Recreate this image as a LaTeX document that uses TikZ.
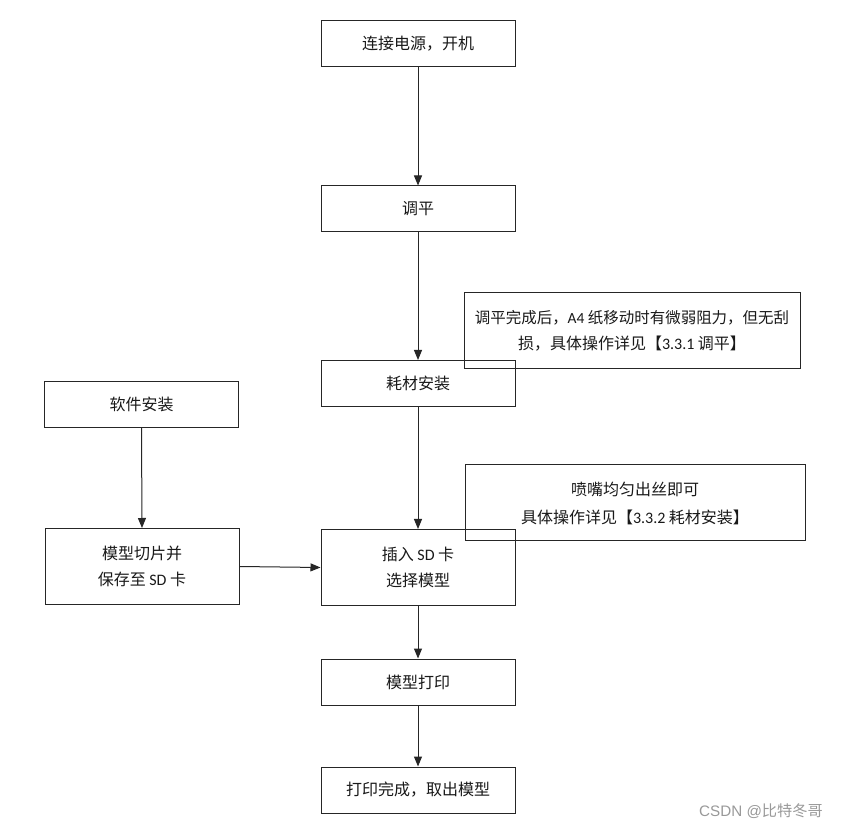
\documentclass[tikz,border=0pt]{standalone}
\usepackage{fontspec}
\setmainfont{Noto Sans CJK SC}
\newfontfamily\latf{Carlito}
\newfontfamily\wmf{Liberation Sans}
\newcommand{\lat}[1]{{\latf #1}}
\usetikzlibrary{arrows.meta}
\begin{document}
\begin{tikzpicture}[x=0.75pt,y=-0.75pt,
  every node/.style={font=\fontsize{12}{19.5}\selectfont, text=black!90, align=center, inner sep=0pt},
  box/.style={draw=black!85, line width=0.75pt, minimum width=145.5pt},
  sbox/.style={box, minimum height=34.5pt},
  tbox/.style={box, minimum height=57pt},
  note/.style={draw=black!85, line width=0.75pt, minimum height=57pt},
  arr/.style={draw=black!85, line width=0.75pt, -{Triangle[length=7.5pt,width=6pt]}}]
\useasboundingbox (0,0) rectangle (843,830);
\fill[white] (0,0) rectangle (843,830);
\node[sbox] (a) at (418,43.5) {连接电源，开机};
\node[sbox] (b) at (418,209) {调平};
\node[sbox] (c) at (418,383.5) {耗材安装};
\node[tbox] (d) at (418,567.5) {插入 \lat{SD} 卡\\选择模型};
\node[sbox] (e) at (418,682) {模型打印};
\node[sbox] (f) at (418,790) {打印完成，取出模型};
\node[sbox] (g) at (141.5,404.5) {软件安装};
\node[tbox] (h) at (142,566.5) {模型切片并\\保存至 \lat{SD} 卡};
\node[note, minimum width=252pt] (n1) at (632,331) {{\fontsize{11.6}{19.5}\selectfont 调平完成后，\lat{A4} 纸移动时有微弱阻力，但无刮}\\损，具体操作详见【\lat{3.3.1} 调平】};
\node[note, minimum width=255pt, font=\fontsize{12}{21}\selectfont] (n2) at (635,503) {喷嘴均匀出丝即可\\具体操作详见【\lat{3.3.2} 耗材安装】};
\draw[arr] (a) -- (b);
\draw[arr] (b) -- (c);
\draw[arr] (c) -- (d);
\draw[arr] (d) -- (e);
\draw[arr] (e) -- (f);
\draw[arr] (g.south) -- (h.north);
\draw[arr] (h.east) -- (d.west);
\node[text=black!40, font=\fontsize{11.4}{14}\selectfont] (w) at (761,811) {{\wmf CSDN @}比特冬哥};
\end{tikzpicture}
\end{document}
